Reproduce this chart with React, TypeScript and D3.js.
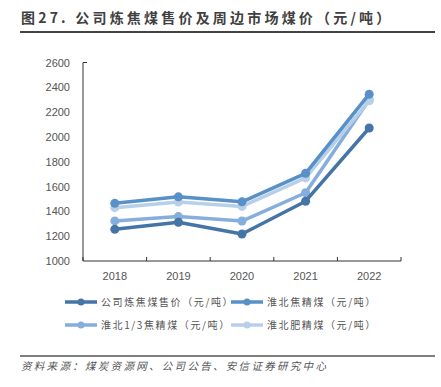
import React from "react";
import * as d3 from "d3";

const years = ["2018", "2019", "2020", "2021", "2022"];
const yTicks = [1000, 1200, 1400, 1600, 1800, 2000, 2200, 2400, 2600];
const seriesNames = ["公司炼焦煤售价（元/吨）", "淮北焦精煤（元/吨）", "淮北1/3焦精煤（元/吨）", "淮北肥精煤（元/吨）"];
const companyPrice = [1255, 1312, 1218, 1482, 2072];
const huaibeiCoking = [1465, 1517, 1477, 1707, 2345];
const huaibeiOneThird = [1323, 1358, 1322, 1550, 2300];
const huaibeiFat = [1430, 1476, 1440, 1670, 2292];
const colors = ["#4575a6", "#5890c8", "#86aedd", "#b8cfea"];

export default function App() {
  const W = 441, H = 387;
  const x = d3.scaleBand().domain(years).range([83, 401]);
  const y = d3.scaleLinear().domain([1000, 2600]).range([261, 62.5]);
  const all = [companyPrice, huaibeiCoking, huaibeiOneThird, huaibeiFat];
  const line = d3.line<number>().x((_, i) => x(years[i])! + x.bandwidth() / 2).y((d) => y(d));
  const drawOrder = [2, 3, 0, 1];
  const font = "'Noto Sans CJK SC', 'Liberation Sans', sans-serif";
  const boundaries = years.map((yr) => x(yr)!).concat([401]);
  const legendPos = [
    { x: 65, y: 302 }, { x: 231, y: 302 },
    { x: 65, y: 325 }, { x: 231, y: 325 },
  ];
  return (
    <svg width={W} height={H} style={{ position: "absolute", left: 0, top: 0, background: "#fff" }} fontFamily={font}>
      <text x={21} y={23} fontSize={14} fontWeight="bold" fill="#404040" letterSpacing={3.2}>图27. 公司炼焦煤售价及周边市场煤价（元/吨）</text>
      <line x1={20} x2={435} y1={32} y2={32} stroke="#444" strokeWidth={2} />
      {yTicks.map((t) => (
        <text key={t} x={70} y={y(t) + 4} fontSize={11} fill="#555" textAnchor="end" fontFamily="'Liberation Sans', Arial, sans-serif">{t}</text>
      ))}
      <line x1={83} x2={83} y1={62.5} y2={261} stroke="#333" strokeWidth={1} />
      <line x1={83} x2={401} y1={261} y2={261} stroke="#333" strokeWidth={1} />
      <line x1={83} x2={87} y1={62.5} y2={62.5} stroke="#333" strokeWidth={1} />
      {boundaries.map((b, i) => (
        <line key={i} x1={b} x2={b} y1={261} y2={257} stroke="#333" strokeWidth={1} />
      ))}
      {years.map((yr) => (
        <text key={yr} x={x(yr)! + x.bandwidth() / 2} y={280} fontSize={11} fill="#555" textAnchor="middle" fontFamily="'Liberation Sans', Arial, sans-serif">{yr}</text>
      ))}
      {drawOrder.map((si) => (
        <g key={si}>
          <path d={line(all[si])!} fill="none" stroke={colors[si]} strokeWidth={3.5} strokeLinejoin="round" />
          {all[si].map((v, i) => (
            <circle key={i} cx={x(years[i])! + x.bandwidth() / 2} cy={y(v)} r={4.5} fill={colors[si]} />
          ))}
        </g>
      ))}
      {seriesNames.map((n, i) => (
        <g key={n}>
          <line x1={legendPos[i].x} x2={legendPos[i].x + 32} y1={legendPos[i].y} y2={legendPos[i].y} stroke={colors[i]} strokeWidth={3.5} />
          <circle cx={legendPos[i].x + 16} cy={legendPos[i].y} r={3.5} fill={colors[i]} />
          <text x={legendPos[i].x + 36} y={legendPos[i].y + 4} fontSize={10} fill="#555" letterSpacing={1.6}>{n}</text>
        </g>
      ))}
      <line x1={20} x2={435} y1={356} y2={356} stroke="#555" strokeWidth={1.5} />
      <text x={21} y={370} fontSize={10.5} fontStyle="italic" fill="#555" letterSpacing={2.3}>资料来源：煤炭资源网、公司公告、安信证券研究中心</text>
    </svg>
  );
}
